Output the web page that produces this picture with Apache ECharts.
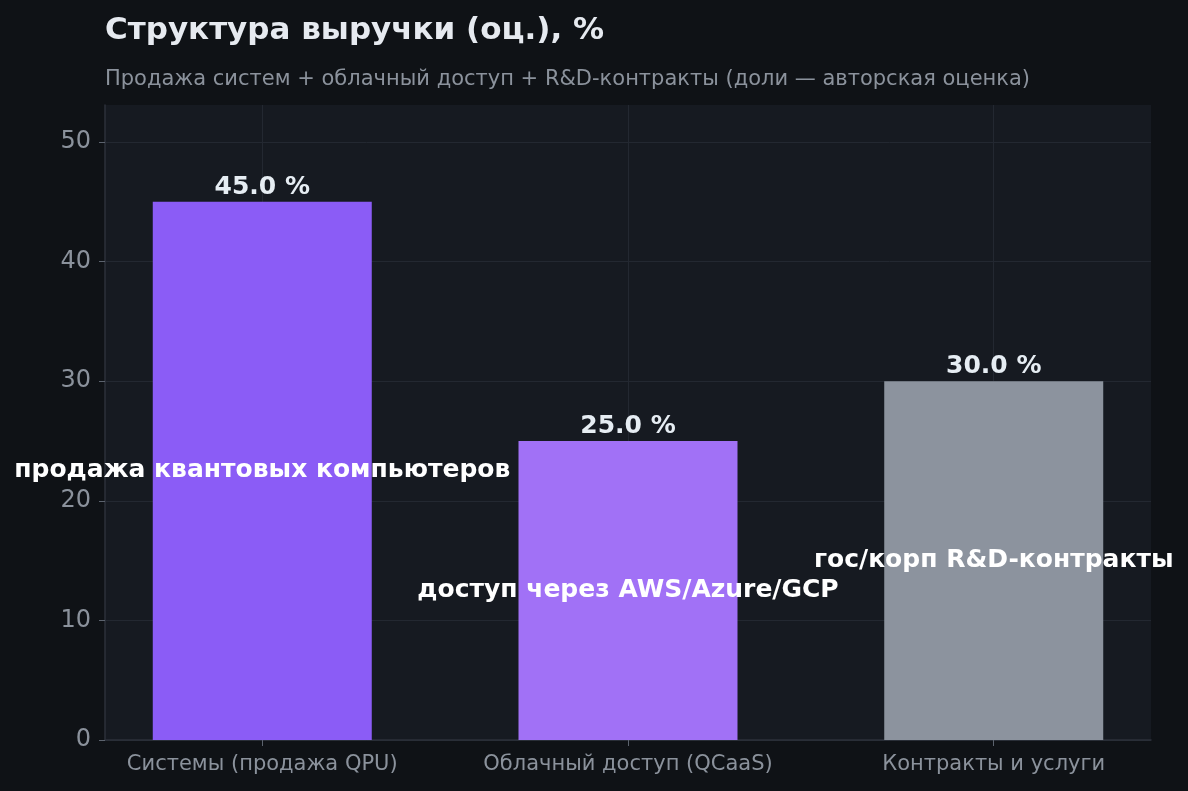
<!DOCTYPE html>
<html>
<head>
<meta charset="utf-8">
<script src="https://cdn.jsdelivr.net/npm/echarts@6/dist/echarts.min.js"></script>
<style>
  html, body { margin: 0; padding: 0; background: #0f1216; }
  #chart { width: 1188px; height: 791px; }
</style>
</head>
<body>
<div id="chart"></div>
<script>
// data
const categories = ["Системы (продажа QPU)", "Облачный доступ (QCaaS)", "Контракты и услуги"];
const shares = [45, 25, 30];
const innerLabels = ["продажа квантовых компьютеров", "доступ через AWS/Azure/GCP", "гос/корп R&D-контракты"];
const barColors = ["#8b5cf6", "#a171f6", "#8c939e"];
const yTicks = [0, 10, 20, 30, 40, 50];

const chart = echarts.init(document.getElementById("chart"));
const font = "DejaVu Sans";
const positions = categories.map((c, i) => i);

const options = {
  backgroundColor: "#0f1216",
  animation: false,
  title: {
    text: "Структура выручки (оц.), %",
    subtext: "Продажа систем + облачный доступ + R&D-контракты (доли — авторская оценка)",
    left: 100,
    top: 10,
    itemGap: 23,
    textStyle: { color: "#e6eaf0", fontFamily: font, fontWeight: "bold", fontSize: 31 },
    subtextStyle: { color: "#8b929c", fontFamily: font, fontSize: 21 },
  },
  grid: { left: 105, right: 37, top: 105, bottom: 51, show: true, backgroundColor: "#161a21", borderWidth: 0 },
  xAxis: {
    type: "value",
    min: -0.43,
    max: 2.43,
    axisLine: { show: true, onZero: false, lineStyle: { color: "#2c313a", width: 1.5 } },
    axisTick: { show: true, customValues: positions, length: 6, lineStyle: { color: "#5c636e" } },
    axisLabel: {
      customValues: positions,
      formatter: (v) => categories[Math.round(v)] || "",
      color: "#8b929c",
      fontFamily: font,
      fontSize: 21,
      margin: 14,
    },
    splitLine: { show: true, lineStyle: { color: "#232831", width: 1 } },
  },
  yAxis: {
    type: "value",
    min: 0,
    max: 53.1,
    interval: 10,
    axisLine: { show: true, onZero: false, lineStyle: { color: "#2c313a", width: 1.5 } },
    axisTick: { show: true, customValues: yTicks, length: 6, lineStyle: { color: "#5c636e" } },
    axisLabel: {
      customValues: yTicks,
      color: "#8b929c",
      fontFamily: font,
      fontSize: 24,
      margin: 14,
    },
    splitLine: { show: true, lineStyle: { color: "#232831", width: 1 } },
  },
  series: [
    {
      type: "bar",
      barWidth: 219,
      data: shares.map((v, i) => ({ value: [i, v], itemStyle: { color: barColors[i] } })),
      label: {
        show: true,
        position: "inside",
        formatter: (p) => innerLabels[p.dataIndex],
        color: "#ffffff",
        fontFamily: font,
        fontWeight: "bold",
        fontSize: 25,
      },
      z: 2,
    },
    {
      type: "scatter",
      symbolSize: 0,
      itemStyle: { opacity: 1 },
      data: shares.map((v, i) => [i, v]),
      label: {
        show: true,
        position: "top",
        distance: 2,
        formatter: (p) => p.value[1].toFixed(1) + " %",
        color: "#e6edf3",
        fontFamily: font,
        fontWeight: "bold",
        fontSize: 25,
      },
      z: 3,
    },
  ],
};

chart.setOption(options);
</script>
</body>
</html>
